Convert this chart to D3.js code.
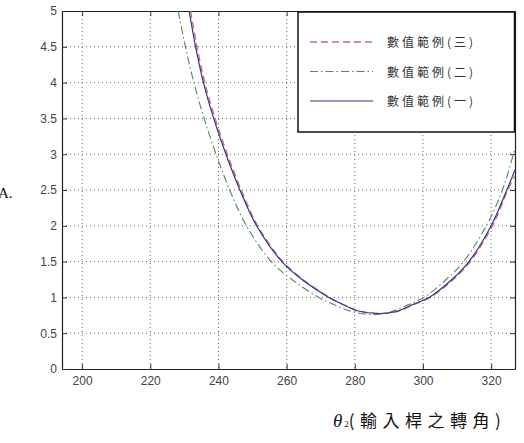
<!DOCTYPE html>
<html>
<head>
<meta charset="utf-8">
<script src="https://cdn.jsdelivr.net/npm/d3@7"></script>
<style>
  body { margin: 0; background: #fff; }
  svg { display: block; }
</style>
</head>
<body>
<svg id="chart" width="524" height="443"></svg>
<script>
// data
var xTicks = [200, 220, 240, 260, 280, 300, 320];
var yTicks = [0, 0.5, 1, 1.5, 2, 2.5, 3, 3.5, 4, 4.5, 5];
var legendNames = ["數值範例(三)", "數值範例(二)", "數值範例(一)"];

var case1X = [231.4, 233.3, 235.6, 238.6, 242.2, 246.3, 251.2, 258.6, 264.5, 272.4, 276.5, 281, 287, 292, 297, 301.8, 308.5, 313.5, 320, 324.6, 327];
var case1Y = [5, 4.5, 4, 3.5, 3, 2.5, 2, 1.5, 1.25, 1, 0.9, 0.81, 0.775, 0.8, 0.9, 1, 1.25, 1.5, 2, 2.5, 2.78];

var case2X = [228.2, 230.3, 232.8, 235.8, 239.3, 243.3, 248.2, 255.5, 261.5, 269.4, 273.8, 278.5, 285, 290, 295.8, 300.3, 306.8, 311.9, 318.6, 323.3, 327];
var case2Y = [5, 4.5, 4, 3.5, 3, 2.5, 2, 1.5, 1.25, 1, 0.9, 0.81, 0.76, 0.79, 0.9, 1, 1.25, 1.5, 2, 2.5, 3.08];

var case3X = [231.8, 233.7, 236, 239, 242.6, 246.7, 251.5, 258.9, 264.8, 272.6, 276.7, 281.2, 287, 292.2, 297.3, 302.1, 308.9, 313.9, 320.4, 324.9, 327];
var case3Y = [5, 4.5, 4, 3.5, 3, 2.5, 2, 1.5, 1.25, 1, 0.9, 0.81, 0.775, 0.8, 0.9, 1, 1.25, 1.5, 2, 2.5, 2.7];

var svg = d3.select("#chart");
var pL = 62, pR = 515, pT = 11, pB = 369;

var x = d3.scaleLinear().domain([194.1, 327]).range([pL, pR]);
var y = d3.scaleLinear().domain([0, 5]).range([pB, pT]);

svg.append("defs").append("clipPath").attr("id", "clip")
  .append("rect").attr("x", pL).attr("y", pT)
  .attr("width", pR - pL).attr("height", pB - pT);

// dotted grid
var grid = svg.append("g");
grid.selectAll(".gx").data(xTicks).enter().append("line")
  .attr("x1", function(d) { return x(d); }).attr("x2", function(d) { return x(d); })
  .attr("y1", pT).attr("y2", pB)
  .attr("stroke", "#666").attr("stroke-width", 1).attr("stroke-dasharray", "1,3");
grid.selectAll(".gy").data(yTicks.slice(1, -1)).enter().append("line")
  .attr("y1", function(d) { return y(d); }).attr("y2", function(d) { return y(d); })
  .attr("x1", pL).attr("x2", pR)
  .attr("stroke", "#666").attr("stroke-width", 1).attr("stroke-dasharray", "1,3");

// axes, ticks inward
svg.append("g").attr("transform", "translate(0," + pB + ")")
  .call(d3.axisBottom(x).tickValues(xTicks).tickSizeInner(-5).tickSizeOuter(0).tickPadding(7));
svg.append("g").attr("transform", "translate(" + pL + ",0)")
  .call(d3.axisLeft(y).tickValues(yTicks).tickFormat(d3.format("")).tickSizeInner(-5).tickSizeOuter(0).tickPadding(5));
svg.append("g").attr("transform", "translate(0," + pT + ")")
  .call(d3.axisTop(x).tickValues(xTicks).tickSizeInner(-5).tickSizeOuter(0).tickFormat(""));
svg.append("g").attr("transform", "translate(" + pR + ",0)")
  .call(d3.axisRight(y).tickValues(yTicks).tickSizeInner(-5).tickSizeOuter(0).tickFormat(""));

svg.selectAll(".domain").attr("stroke", "#222").attr("stroke-width", 1.2);
svg.selectAll(".tick line").attr("stroke", "#333");
svg.selectAll(".tick text").attr("fill", "#444")
  .style("font-family", "Liberation Sans, Arial, sans-serif").style("font-size", "12px");

// curves
var series = [
  { xs: case3X, ys: case3Y, color: "#c86878", dash: "7,4", width: 1.3 },
  { xs: case2X, ys: case2Y, color: "#4f8c5e", dash: "8,3,1.5,3", width: 1.1 },
  { xs: case1X, ys: case1Y, color: "#34348a", dash: null, width: 1.2 }
];

var line = d3.line()
  .x(function(d) { return x(d[0]); })
  .y(function(d) { return y(d[1]); })
  .curve(d3.curveCatmullRom.alpha(0.5));

var plot = svg.append("g").attr("clip-path", "url(#clip)");
series.forEach(function(s) {
  var pts = s.xs.map(function(v, i) { return [v, s.ys[i]]; });
  plot.append("path").datum(pts)
    .attr("d", line)
    .attr("fill", "none")
    .attr("stroke", s.color)
    .attr("stroke-width", s.width)
    .attr("stroke-dasharray", s.dash);
});

// legend
var lg = svg.append("g");
lg.append("rect").attr("x", 298).attr("y", 12).attr("width", 216.5).attr("height", 120)
  .attr("fill", "#fff").attr("stroke", "#111").attr("stroke-width", 1.5);
series.forEach(function(s, i) {
  var ly = 42 + i * 29.5;
  lg.append("line").attr("x1", 310).attr("x2", 373).attr("y1", ly).attr("y2", ly)
    .attr("stroke", s.color).attr("stroke-width", s.width).attr("stroke-dasharray", s.dash);
  lg.append("text").attr("x", 387).attr("y", ly + 5).text(legendNames[i])
    .attr("fill", "#333").style("font-family", "Noto Sans CJK TC, sans-serif")
    .style("font-size", "12px").style("letter-spacing", "3px");
});

// axis labels
svg.append("text").attr("x", -2).attr("y", 198).text("A.")
  .style("font-family", "Liberation Serif, serif").style("font-size", "15px").attr("fill", "#111");

var xl = svg.append("text").attr("x", 333).attr("y", 427)
  .style("font-family", "Liberation Serif, serif").attr("fill", "#111");
xl.append("tspan").text("θ").style("font-style", "italic").style("font-size", "19px");
xl.append("tspan").text("2").style("font-size", "9px").attr("dx", 2);
xl.append("tspan").text("(輸入桿之轉角)").style("font-family", "Noto Sans CJK TC, serif")
  .style("font-size", "17px").style("letter-spacing", "5.5px");
</script>
</body>
</html>
